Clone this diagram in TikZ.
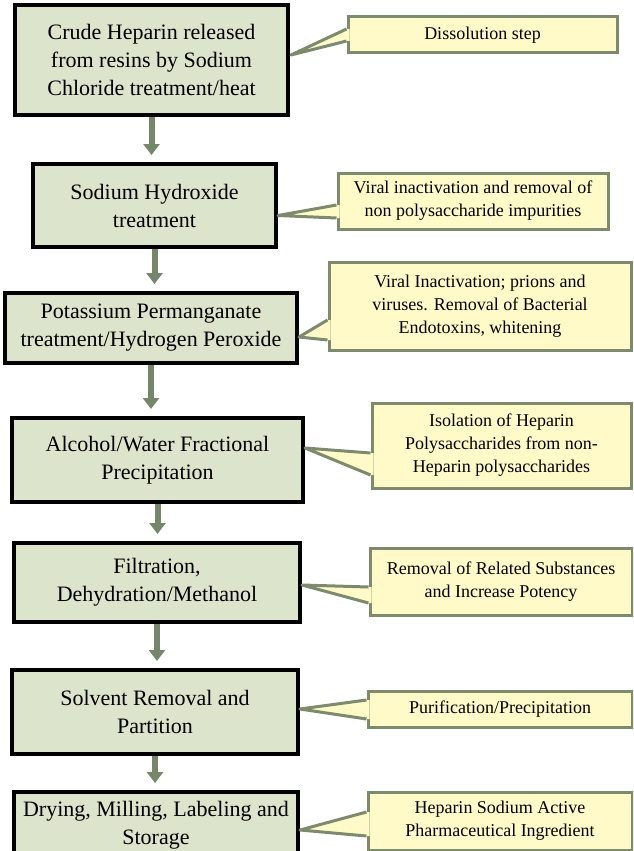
\documentclass[tikz,border=0pt]{standalone}
\usepackage{fontspec}
\setmainfont{Liberation Serif}
\usetikzlibrary{arrows.meta,calc}

\definecolor{boxfill}{RGB}{220,228,204}
\definecolor{notefill}{RGB}{255,250,200}
\definecolor{noteline}{RGB}{125,138,110}
\definecolor{flowline}{RGB}{118,134,106}

\tikzset{
  stepbox/.style={draw=black,line width=4pt,fill=boxfill,align=center,inner sep=0pt,
    font=\fontsize{22}{28}\selectfont},
  notebox/.style={draw=noteline,line width=3pt,fill=notefill,align=center,inner sep=0pt,
    font=\fontsize{18}{23}\selectfont},
  flow/.style={draw=flowline,line width=6pt,-{Triangle[width=16pt,length=11pt]},shorten >=7pt},
  notetail/.style={fill=notefill},
  tailedge/.style={draw=noteline,line width=3pt,line join=round}
}

\begin{document}
\begin{tikzpicture}[x=1pt,y=-1pt]
\useasboundingbox (0,0) rectangle (633,851);
\clip (0,0) rectangle (633,851);

% process steps
\node[stepbox,minimum width=273pt,minimum height=110pt] (crude) at (151.5,60)
  {Crude Heparin released\\from resins by Sodium\\Chloride treatment/heat};
\node[stepbox,minimum width=243pt,minimum height=83pt] (naoh) at (154.5,205.5)
  {Sodium Hydroxide\\treatment};
\node[stepbox,minimum width=292pt,minimum height=70pt] (kmno) at (151,328)
  {Potassium Permanganate\\treatment/Hydrogen Peroxide};
\node[stepbox,minimum width=291pt,minimum height=84pt] (alcohol) at (157.5,460)
  {Alcohol/Water Fractional\\Precipitation};
\node[stepbox,minimum width=286pt,minimum height=79pt] (filtr) at (157,582.5)
  {Filtration,\\Dehydration/Methanol};
\node[stepbox,minimum width=286pt,minimum height=84pt] (solvent) at (155,712)
  {Solvent Removal and\\Partition};
\node[stepbox,minimum width=284pt,minimum height=66pt] (drying) at (156,825)
  {Drying, Milling, Labeling and\\Storage};

% arrows
\draw[flow] (crude.south) -- (crude.south |- naoh.north);
\draw[flow] (naoh.south) -- (naoh.south |- kmno.north);
\draw[flow] (kmno.south) -- (kmno.south |- alcohol.north);
\draw[flow] (alcohol.south) -- (alcohol.south |- filtr.north);
\draw[flow] (filtr.south) -- (filtr.south |- solvent.north);
\draw[flow] (solvent.south) -- (solvent.south |- drying.north);

% notes
\node[notebox,minimum width=269pt,minimum height=36pt] (dissolve) at (482.5,35)
  {Dissolution step};
\node[notebox,minimum width=270pt,minimum height=56pt] (viral) at (473,201)
  {Viral inactivation and removal of\\non polysaccharide impurities};
\node[notebox,minimum width=302pt,minimum height=88pt] (endotox) at (480,306)
  {Viral Inactivation; prions and\\viruses. Removal of Bacterial\\Endotoxins, whitening};
\node[notebox,minimum width=259pt,minimum height=85pt] (isolation) at (501.5,445.5)
  {Isolation of Heparin\\Polysaccharides from non-\\Heparin polysaccharides};
\node[notebox,minimum width=262pt,minimum height=67pt] (related) at (501,581.5)
  {Removal of Related Substances\\and Increase Potency};
\node[notebox,minimum width=264pt,minimum height=36pt] (purif) at (500,709)
  {Purification/Precipitation};
\node[notebox,minimum width=264pt,minimum height=58pt] (api) at (500,821)
  {Heparin Sodium Active\\Pharmaceutical Ingredient};

% note pointers
\fill[notetail] ($(dissolve.west)+(3,-6)$) -- ($(dissolve.west)+(0,-6)$) -- ($(crude.east)+(1,-5)$)
  -- ($(dissolve.west)+(0,6)$) -- ($(dissolve.west)+(3,6)$) -- cycle;
\draw[tailedge] ($(dissolve.west)+(0,-6)$) -- ($(crude.east)+(1,-5)$) -- ($(dissolve.west)+(0,6)$);

\fill[notetail] ($(viral.west)+(3,4)$) -- ($(viral.west)+(0,4)$) -- ($(naoh.east)+(0,10)$)
  -- ($(viral.west)+(0,17)$) -- ($(viral.west)+(3,17)$) -- cycle;
\draw[tailedge] ($(viral.west)+(0,4)$) -- ($(naoh.east)+(0,10)$) -- ($(viral.west)+(0,17)$);

\fill[notetail] ($(endotox.west)+(3,14)$) -- ($(endotox.west)+(0,14)$) -- ($(kmno.east)+(0,9)$)
  -- ($(endotox.west)+(0,34)$) -- ($(endotox.west)+(3,34)$) -- cycle;
\draw[tailedge] ($(endotox.west)+(0,14)$) -- ($(kmno.east)+(0,9)$) -- ($(endotox.west)+(0,34)$);

\fill[notetail] ($(isolation.west)+(3,7.5)$) -- ($(isolation.west)+(0,7.5)$) -- ($(alcohol.east)+(0,-12)$)
  -- ($(isolation.west)+(0,29.5)$) -- ($(isolation.west)+(3,29.5)$) -- cycle;
\draw[tailedge] ($(isolation.west)+(0,7.5)$) -- ($(alcohol.east)+(0,-12)$) -- ($(isolation.west)+(0,29.5)$);

\fill[notetail] ($(related.west)+(3,5.5)$) -- ($(related.west)+(0,5.5)$) -- ($(filtr.east)+(0,2.5)$)
  -- ($(related.west)+(0,21.5)$) -- ($(related.west)+(3,21.5)$) -- cycle;
\draw[tailedge] ($(related.west)+(0,5.5)$) -- ($(filtr.east)+(0,2.5)$) -- ($(related.west)+(0,21.5)$);

\fill[notetail] ($(purif.west)+(3,-9)$) -- ($(purif.west)+(0,-9)$) -- ($(solvent.east)+(0,-3)$)
  -- ($(purif.west)+(0,10)$) -- ($(purif.west)+(3,10)$) -- cycle;
\draw[tailedge] ($(purif.west)+(0,-9)$) -- ($(solvent.east)+(0,-3)$) -- ($(purif.west)+(0,10)$);

\fill[notetail] ($(api.west)+(3,-9)$) -- ($(api.west)+(0,-9)$) -- ($(drying.east)+(0,5)$)
  -- ($(api.west)+(0,15)$) -- ($(api.west)+(3,15)$) -- cycle;
\draw[tailedge] ($(api.west)+(0,-9)$) -- ($(drying.east)+(0,5)$) -- ($(api.west)+(0,15)$);
\end{tikzpicture}
\end{document}
